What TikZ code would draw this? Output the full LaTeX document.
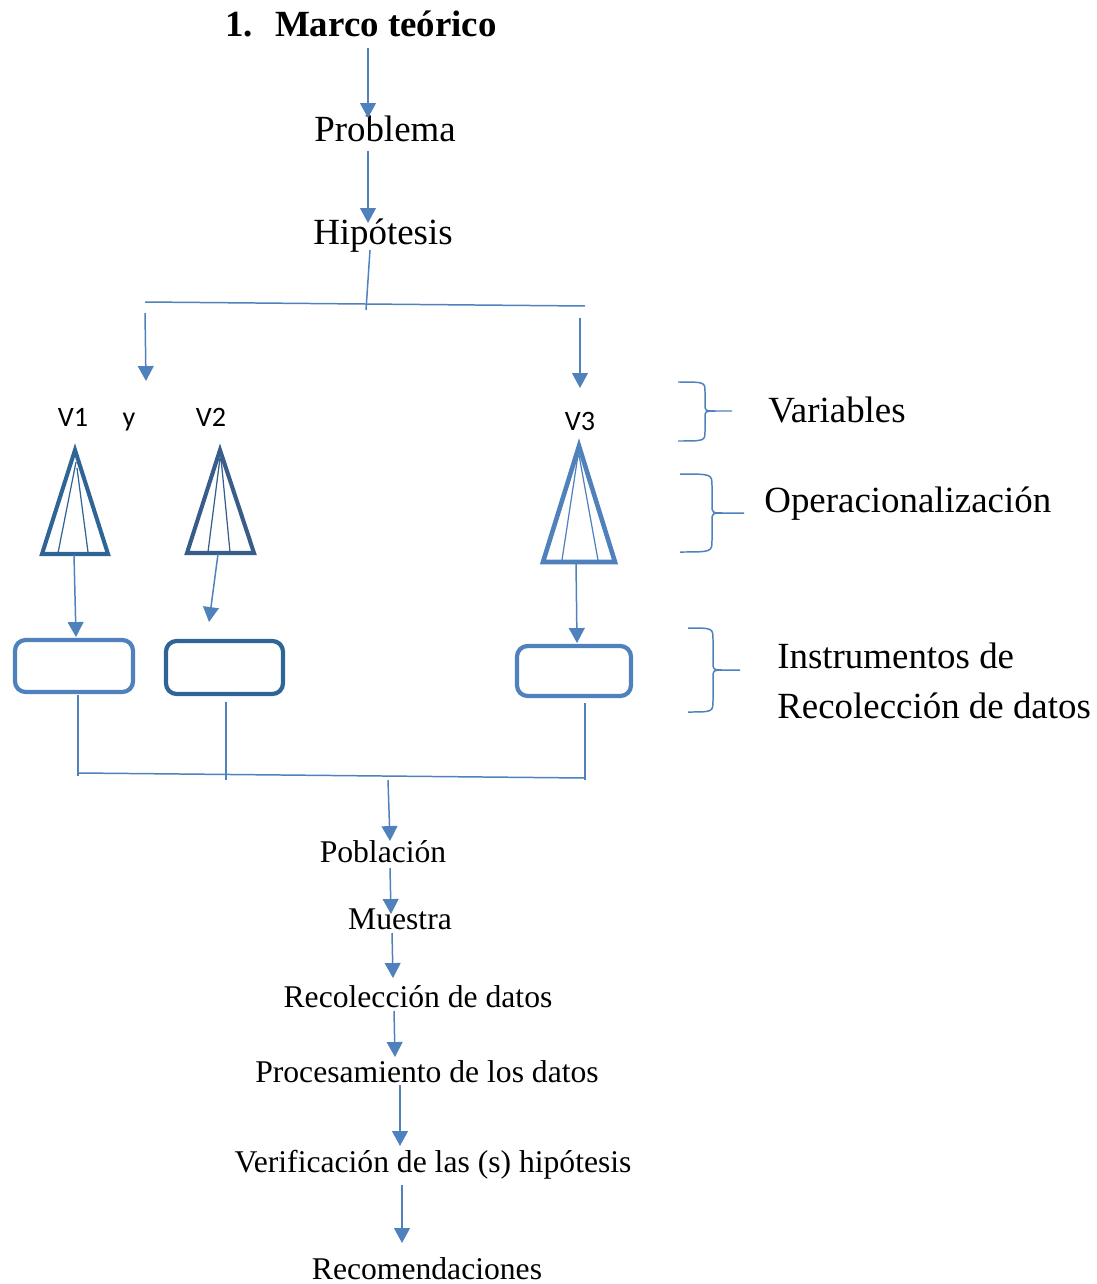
\documentclass[tikz,border=0pt]{standalone}
\usepackage{fontspec}
\setmainfont{Liberation Serif}
\newfontfamily\calibri{Carlito}
\usetikzlibrary{arrows.meta}
\definecolor{azulA}{HTML}{4F81BD}
\definecolor{azulB}{HTML}{2F6497}
\definecolor{azulC}{HTML}{385D8A}

\begin{document}
\begin{tikzpicture}[x=0.02cm,y=-0.02cm,
  flecha/.style={draw=azulA,line width=0.85pt,-{Triangle[width=9pt,length=8.5pt]}},
  linea/.style={draw=azulA,line width=0.85pt},
  cono/.style={line width=2.3pt,line join=miter},
  caja/.style={draw,line width=2.4pt,rounded corners=6pt,inner sep=0pt},
  llave/.style={draw=azulA,line width=0.85pt},
  grande/.style={font=\fontsize{21}{25}\selectfont,anchor=base},
  chico/.style={font=\fontsize{18}{22}\selectfont,anchor=base},
  rotulo/.style={font=\calibri\fontsize{16}{19}\selectfont,anchor=base}]
\useasboundingbox (0,0) rectangle (1097,1284);

% parte de arriba
\node[grande,font=\fontsize{21}{25}\selectfont\bfseries] (marco) at (361,37) {1.\hspace{0.6em}Marco teórico};
\node[grande] (problema) at (385,142) {Problema};
\node[grande] (hipotesis) at (383,244) {Hipótesis};

\coordinate (m1) at (368,48);   \coordinate (p0) at (368,118);
\coordinate (p1) at (368,151);  \coordinate (h0) at (368,223);
\coordinate (h1) at (370,250);  \coordinate (h2) at (366,310);
\coordinate (izq) at (145,302); \coordinate (der) at (585,306);
\draw[flecha] (m1) -- (p0);
\draw[flecha] (p1) -- (h0);
\draw[linea] (h1) -- (h2);
\draw[linea] (izq) -- (der);
\coordinate (a1) at (145,313); \coordinate (a2) at (146,381);
\coordinate (b1) at (580,318); \coordinate (b2) at (580,388);
\draw[flecha] (a1) -- (a2);
\draw[flecha] (b1) -- (b2);

% variables
\node[rotulo] (v1) at (73,426) {V1};
\node[rotulo] (yy) at (129,426) {y};
\node[rotulo] (v2) at (211,426) {V2};
\node[rotulo] (v3) at (580,430) {V3};

% conos
\draw[cono,azulB] (75,450) -- (42,554) -- (108,554) -- cycle;
\draw[azulB,line width=0.7pt] (76,462) -- (58,553) (77,468) -- (88,552);
\draw[cono,azulC] (220,450) -- (187,553) -- (254,553) -- cycle;
\draw[azulC,line width=0.7pt] (220,458) -- (208,552) (221,458) -- (230,552);
\draw[cono,azulA,line width=2.6pt] (579,446) -- (543,562) -- (615,562) -- cycle;
\draw[azulA,line width=0.7pt] (578,455) -- (562,560) (579,455) -- (598,560);

% cajas
\node[caja,draw=azulA,minimum width=2.36cm,minimum height=1.04cm] (c1) at (74,666) {};
\node[caja,draw=azulB,minimum width=2.34cm,minimum height=1.06cm] (c2) at (224.5,667.5) {};
\node[caja,draw=azulA,minimum width=2.28cm,minimum height=1.0cm] (c3) at (574,671) {};

\coordinate (t1) at (74,555);  \coordinate (t1b) at (76,637);
\coordinate (t2) at (218,554); \coordinate (t2b) at (209,622);
\coordinate (t3) at (576,562); \coordinate (t3b) at (577,643);
\draw[flecha] (t1) -- (t1b);
\draw[flecha] (t2) -- (t2b);
\draw[flecha] (t3) -- (t3b);

% union de las cajas
\coordinate (u1) at (78,695);  \coordinate (u1b) at (78,776);
\coordinate (u2) at (226,702); \coordinate (u2b) at (226,780);
\coordinate (u3) at (585,703); \coordinate (u3b) at (585,780);
\coordinate (ui) at (79,773);  \coordinate (ud) at (585,778);
\draw[linea] (u1) -- (u1b);
\draw[linea] (u2) -- (u2b);
\draw[linea] (u3) -- (u3b);
\draw[linea] (ui) -- (ud);

% llaves
\draw[llave] (678,382) .. controls (705,382) .. (705,392) -- (705,404)
  .. controls (705,411) .. (716,411) -- (732,411)
  (716,411) .. controls (705,411) .. (705,418) -- (705,431)
  .. controls (705,441) .. (678,441);
\draw[llave] (680,474) .. controls (712,474) .. (712,486) -- (712,505)
  .. controls (712,513) .. (724,513) -- (744,513)
  (724,513) .. controls (712,513) .. (712,521) -- (712,540)
  .. controls (712,552) .. (680,552);
\draw[llave] (688,628) .. controls (713,628) .. (713,640) -- (713,662)
  .. controls (713,670) .. (724,670) -- (740,670)
  (724,670) .. controls (713,670) .. (713,678) -- (713,700)
  .. controls (713,712) .. (688,712);
\node[grande,anchor=base west,inner xsep=0pt] (variables) at (768,422) {Variables};
\node[grande,anchor=base west,inner xsep=0pt] (opera) at (764,512) {Operacionalización};
\node[grande,anchor=base west,inner xsep=0pt] (instru) at (777,668) {Instrumentos de};
\node[grande,anchor=base west,inner xsep=0pt] (instru2) at (777,718) {Recolección de datos};

% parte de abajo
\node[chico] (poblacion) at (383,862) {Población};
\node[chico] (muestra) at (400,929) {Muestra};
\node[chico] (recoleccion) at (418,1007) {Recolección de datos};
\node[chico] (proceso) at (427,1082) {Procesamiento de los datos};
\node[chico] (verifica) at (433,1172) {Verificación de las (s) hipótesis};
\node[chico] (recomienda) at (427,1279) {Recomendaciones};

\coordinate (d0) at (388,780);  \coordinate (d1) at (390,841);
\coordinate (d2) at (390,868);  \coordinate (d3) at (391,914);
\coordinate (d4) at (392,933);  \coordinate (d5) at (393,978);
\coordinate (d6) at (394,1011); \coordinate (d7) at (395,1057);
\coordinate (d8) at (400,1085); \coordinate (d9) at (400,1146);
\coordinate (d10) at (402,1185); \coordinate (d11) at (402,1243);
\draw[flecha] (d0) -- (d1);
\draw[flecha] (d2) -- (d3);
\draw[flecha] (d4) -- (d5);
\draw[flecha] (d6) -- (d7);
\draw[flecha] (d8) -- (d9);
\draw[flecha] (d10) -- (d11);
\end{tikzpicture}
\end{document}
